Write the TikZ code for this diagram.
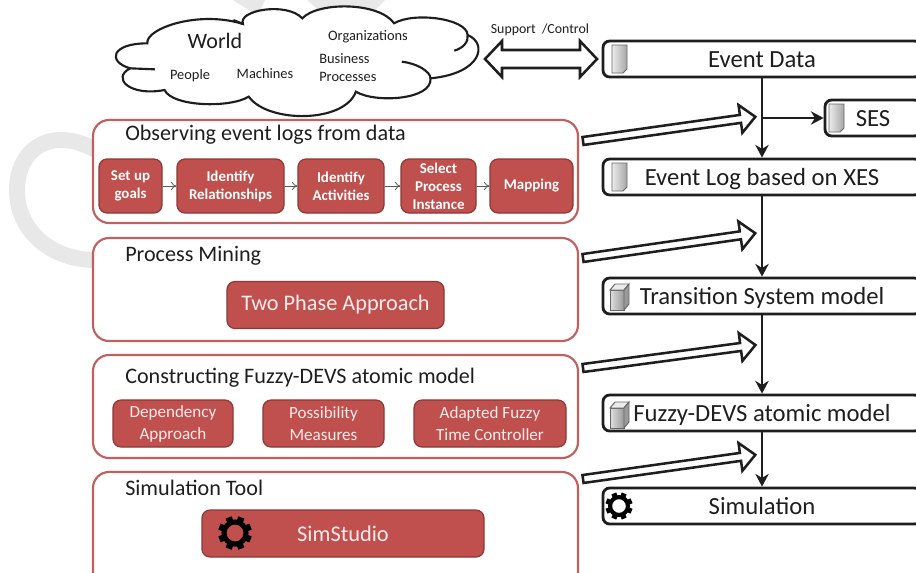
\documentclass[tikz,border=0pt]{standalone}
\usepackage{fontspec}
\setmainfont{Carlito}
\usetikzlibrary{arrows.meta,calc}
\definecolor{redfill}{HTML}{C0504D}
\definecolor{redline}{HTML}{8C3836}
\definecolor{outerred}{HTML}{C0605F}
\definecolor{ink}{HTML}{1E1E1E}
\definecolor{wmgray}{HTML}{E8E8E8}
\tikzset{
  wh/.style 2 args={minimum width=#1*0.75pt,minimum height=#2*0.75pt},
  outerbox/.style={draw=outerred,line width=1.6pt,fill=white,rounded corners=12pt,inner sep=0pt},
  redbox/.style={draw=redline,line width=0.9pt,fill=redfill,rounded corners=6pt,inner sep=0pt,align=center},
  stagebox/.style={draw=ink,line width=2.1pt,fill=white,rounded corners=5pt,inner sep=0pt,text=ink,text height=12pt,text depth=0pt,font=\fontsize{18.5}{20}\selectfont},
  titletext/.style={inner sep=0pt,anchor=west,text=ink,font=\fontsize{16.6}{18}\selectfont},
  stepfont/.style={text=white,font=\fontsize{11.2}{13.5}\selectfont\bfseries},
  softfont/.style={text=red!8!white,font=\fontsize{12.8}{16.5}\selectfont},
  cloudfont/.style={text=ink,inner sep=0pt,align=left,font=\fontsize{10.8}{13.5}\selectfont},
  flow/.style={draw=ink,line width=2.2pt,-{Stealth[length=9.5pt,width=10pt,inset=3pt]}},
  smallflow/.style={draw=black!65,line width=0.6pt,-{To[length=4pt,width=6pt]}},
  hollow/.style={draw=ink,line width=1.9pt,fill=white,line join=miter},
}
\newcommand\hollowarrow[3]{%
  \begin{scope}[shift={(#1)},rotate=#2]
    \draw[hollow] (0,-4) -- (#3-15,-4) -- (#3-15,-14) -- (#3,0) -- (#3-15,14) -- (#3-15,4) -- (0,4) -- cycle;
  \end{scope}}
\newcommand\docicon[1]{%
  \begin{scope}[shift={(#1)}]
    \draw[black!60,line width=0.7pt,left color=black!8,right color=black!35]
      (0,0) -- (15,0) -- (15,24) -- (11,28) -- (0,28) -- cycle;
  \end{scope}}
\newcommand\cubeicon[1]{%
  \begin{scope}[shift={(#1)}]
    \draw[black!60,line width=0.7pt,left color=black!12,right color=black!40]
      (0,6) -- (14,6) -- (14,26) -- (0,26) -- cycle;
    \draw[black!60,line width=0.7pt,fill=black!8] (0,6) -- (5,0) -- (19,0) -- (14,6) -- cycle;
    \draw[black!60,line width=0.7pt,fill=black!40] (14,6) -- (19,0) -- (19,20) -- (14,26) -- cycle;
  \end{scope}}
\newcommand\gearicon[2]{%
  \begin{scope}[shift={(#1)},scale=#2]
    \draw[black,line width=#2*3.6pt] (0,0) circle[radius=10.5];
    \foreach \a in {0,45,...,315}
      \draw[black,line width=#2*4.6pt] (\a+22.5:11) -- (\a+22.5:16);
  \end{scope}}
\begin{document}
\begin{tikzpicture}[x=0.75pt,y=-0.75pt]
\useasboundingbox (0,0) rectangle (916,572);
\clip (0,0) rectangle (916,572);
% watermark
\draw[wmgray,line width=12pt] (96,150) .. controls (50,125) and (17,150) .. (17,190) .. controls (17,230) and (50,260) .. (96,260);
\fill[wmgray] (233,0) -- (258,16) -- (265,0) -- cycle;
\fill[wmgray] (307,0) -- (325,16) -- (370,16) -- (385,0) -- cycle;
% cloud
\begin{scope}[x=0.287pt,y=-0.25pt]
\draw[ink,line width=1.6pt,fill=white]
  (385,130) .. controls (380,85) and (520,30) .. (635,72)
  .. controls (620,30) and (750,5) .. (790,55)
  .. controls (830,5) and (990,5) .. (1030,70)
  .. controls (1080,35) and (1220,55) .. (1222,105)
  .. controls (1275,130) and (1260,220) .. (1125,235)
  .. controls (1130,300) and (980,310) .. (930,275)
  .. controls (900,370) and (700,370) .. (650,290)
  .. controls (600,325) and (450,320) .. (430,270)
  .. controls (340,290) and (290,235) .. (340,205)
  .. controls (280,185) and (290,130) .. (385,130) -- cycle;
\draw[ink,line width=1.6pt] (340,205) -- (405,208);
\draw[ink,line width=1.6pt] (1222,105) .. controls (1225,125) and (1210,145) .. (1187,152);
\draw[ink,line width=1.6pt] (1050,185) .. controls (1090,190) and (1125,215) .. (1125,235);
\draw[ink,line width=1.6pt] (635,72) -- (610,60);
\end{scope}
\node[cloudfont,font=\fontsize{16.5}{18}\selectfont] (world) at (215,41) {World};
\node[cloudfont] (org) at (368,37) {Organizations};
\node[cloudfont] (people) at (190,76) {People};
\node[cloudfont] (mach) at (265,74) {Machines};
\node[cloudfont,anchor=west] (bp) at (319,68) {Business\\Processes};
\node[cloudfont,font=\fontsize{10.4}{12}\selectfont] (sc) at (540,30) {Support\ \ /Control};
% double arrow
\draw[hollow] (485,59) -- (502,41) -- (502,50) -- (580,50) -- (580,41) -- (597,59) -- (580,77) -- (580,68) -- (502,68) -- (502,77) -- cycle;
% stage boxes
\node[stagebox,wh={318}{36}] (ed) at (762,59) {Event Data};
\node[stagebox,wh={96}{36}] (ses) at (873,118) {SES};
\node[stagebox,wh={318}{36}] (el) at (762,177) {Event Log based on XES};
\node[stagebox,wh={318}{36}] (ts) at (762,296) {Transition System model};
\node[stagebox,wh={318}{36}] (fd) at (762,413) {Fuzzy-DEVS atomic model};
\node[stagebox,wh={318}{36}] (si) at (762,506) {Simulation};
\coordinate (j) at (762,118);
\draw[flow] (ed) -- (el);
\draw[flow] (j) -- (ses);
\draw[flow] (el) -- (ts);
\draw[flow] (ts) -- (fd);
\draw[flow] (fd) -- (si);
\docicon{612,45}
\docicon{612,163}
\docicon{829,104}
\cubeicon{610,284}
\cubeicon{610,402}
\gearicon{619,506}{0.85}
% hollow arrows
\hollowarrow{583,141}{8}{174}
\hollowarrow{583,258}{8.2}{174}
\hollowarrow{583,368}{7.6}{174}
\hollowarrow{583,479}{8}{174}
% left panels
\node[outerbox,wh={485}{103}] (p1) at (335.5,171.5) {};
\node[titletext] (t1) at (125,135) {Observing event logs from data};
\node[redbox,stepfont,wh={63}{54}] (s1) at (130.5,186) {Set up\\goals};
\node[redbox,stepfont,wh={107}{54}] (s2) at (230.5,186) {Identify\\Relationships};
\node[redbox,stepfont,wh={86}{54}] (s3) at (341,186) {Identify\\Activities};
\node[redbox,stepfont,wh={75}{54}] (s4) at (438.5,186) {Select\\Process\\Instance};
\node[redbox,stepfont,wh={83}{54}] (s5) at (531.5,186) {Mapping};
\draw[smallflow] (s1) -- (s2);
\draw[smallflow] (s2) -- (s3);
\draw[smallflow] (s3) -- (s4);
\draw[smallflow] (s4) -- (s5);
\node[outerbox,wh={485}{103}] (p2) at (335.5,289.5) {};
\node[titletext] (t2) at (125,256) {Process Mining};
\node[redbox,wh={217}{47},text=red!8!white,font=\fontsize{16.7}{18}\selectfont] (tp) at (335.5,305) {Two Phase Approach};
\node[outerbox,wh={485}{103}] (p3) at (335.5,406.5) {};
\node[titletext] (t3) at (125,378) {Constructing Fuzzy-DEVS atomic model};
\node[redbox,softfont,wh={120}{47}] (c1) at (173,423.5) {Dependency\\Approach};
\node[redbox,softfont,wh={121}{47}] (c2) at (323.5,423.5) {Possibility\\Measures};
\node[redbox,softfont,wh={152}{47}] (c3) at (490,423.5) {Adapted Fuzzy\\Time Controller};
\node[outerbox,wh={485}{125}] (p4) at (335.5,534.5) {};
\node[titletext] (t4) at (125,488) {Simulation Tool};
\node[redbox,wh={282}{47},text=red!8!white,font=\fontsize{16.8}{18}\selectfont] (ss) at (343,533.5) {SimStudio};
\gearicon{235,533}{1.05}
\end{tikzpicture}
\end{document}
